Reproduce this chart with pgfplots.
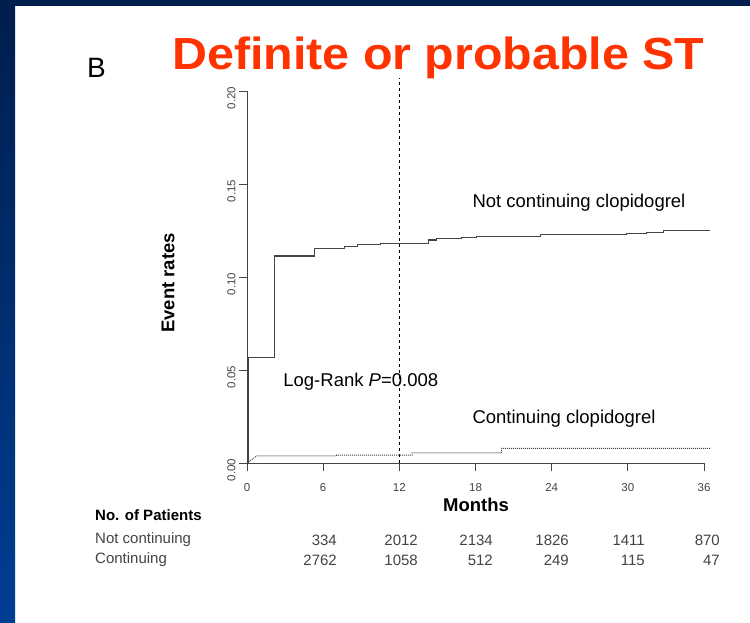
\documentclass[border=0pt]{standalone}
\usepackage{pgfplots}
\pgfplotsset{compat=1.18}
\usepackage{fontspec}
\setmainfont{Liberation Sans}
\definecolor{navytop}{HTML}{001E4E}
\definecolor{navybot}{HTML}{003E94}
\definecolor{titlered}{HTML}{FF3300}
\definecolor{curvegray}{HTML}{444444}
\begin{document}
\begin{tikzpicture}[x=1pt,y=1pt]
\useasboundingbox (0,0) rectangle (750,622);
\fill[white] (0,0) rectangle (750,622);
\fill[navytop] (0,616) rectangle (750,622);
\shade[bottom color=navybot, top color=navytop] (0,0) rectangle (15,616);
% title and panel letter
\node[anchor=base west, inner sep=0, text=titlered, xscale=1.075, font=\fontsize{45}{46}\selectfont\bfseries] at (172,552) {Definite or probable ST};
\node[anchor=base west, inner sep=0, font=\fontsize{28}{30}\selectfont] at (87,544) {B};
\begin{axis}[
  at={(247pt,159pt)}, anchor=origin,
  scale only axis, width=457pt, height=372pt,
  xmin=0, xmax=36, ymin=0, ymax=0.2,
  clip=false,
  axis x line*=bottom, axis y line*=left,
  axis line style={draw=curvegray, line width=1pt, -},
  tick style={draw=curvegray, line width=1pt},
  tick align=outside, major tick length=8pt,
  xtick={0,6,12,18,24,30,36},
  ytick={0,0.05,0.1,0.15,0.2},
  /pgf/number format/assume math mode=true,
  xticklabel style={font=\fontsize{11.5}{12}\selectfont, text=curvegray, yshift=-9pt},
  yticklabel style={font=\fontsize{11.5}{12}\selectfont, text=curvegray, rotate=90, anchor=south, xshift=-7pt,
    /pgf/number format/.cd, fixed, fixed zerofill, precision=2},
]
% Not continuing clopidogrel
\addplot[const plot, draw=curvegray, line width=1.1pt] coordinates {
 (0,0) (0.1,0.0565) (2.15,0.1113) (5.35,0.1154) (7.7,0.1163) (8.7,0.1174)
 (10.5,0.1178) (12,0.1181) (14.3,0.1199) (14.9,0.1206) (16.9,0.1213)
 (18.1,0.1219) (23.1,0.1229) (29.9,0.1235) (31.5,0.1240) (32.8,0.1249) (36.5,0.1249)
};
% Continuing clopidogrel
\addplot[draw=curvegray, line width=1pt, densely dotted] coordinates {
 (0,0) (0.76,0.0038) (7.06,0.0038) (7.06,0.0043) (13.0,0.0043) (13.0,0.0055)
 (20.05,0.0055) (20.05,0.0079) (36.5,0.0079)
};
% 12-month landmark
\addplot[draw=black, line width=0.8pt, dashed] coordinates {(12,0) (12,0.207)};
\node[anchor=west, inner sep=0, font=\fontsize{18.5}{20}\selectfont] at (axis cs:17.75,0.1398) {Not continuing clopidogrel};
\node[anchor=west, inner sep=0, font=\fontsize{18.5}{20}\selectfont] at (axis cs:17.75,0.0237) {Continuing clopidogrel};
\node[anchor=west, inner sep=0, font=\fontsize{18.5}{20}\selectfont] at (axis cs:2.85,0.0435) {Log-Rank \textit{P}=0.008};
\end{axis}
% axis titles
\node[rotate=90, font=\fontsize{18.5}{20}\selectfont\bfseries] at (168,339) {Event rates};
\node[font=\fontsize{18.5}{20}\selectfont\bfseries] at (476,117) {Months};
% number at risk table
\node[anchor=west, inner sep=0, font=\fontsize{15}{16}\selectfont\bfseries] at (95,107) {No. of Patients};
\node[anchor=west, inner sep=0, text=curvegray, font=\fontsize{15}{16}\selectfont] at (95,82) {Not continuing};
\node[anchor=west, inner sep=0, text=curvegray, font=\fontsize{15}{16}\selectfont] at (95,62) {Continuing};
\foreach \xx/\a/\b in {337/334/2762, 418/2012/1058, 493/2134/512, 569/1826/249, 645/1411/115, 720/870/47}{
  \node[anchor=east, inner sep=0, text=curvegray, font=\fontsize{15}{16}\selectfont] at (\xx,82) {\a};
  \node[anchor=east, inner sep=0, text=curvegray, font=\fontsize{15}{16}\selectfont] at (\xx,62) {\b};
}
\end{tikzpicture}
\end{document}
